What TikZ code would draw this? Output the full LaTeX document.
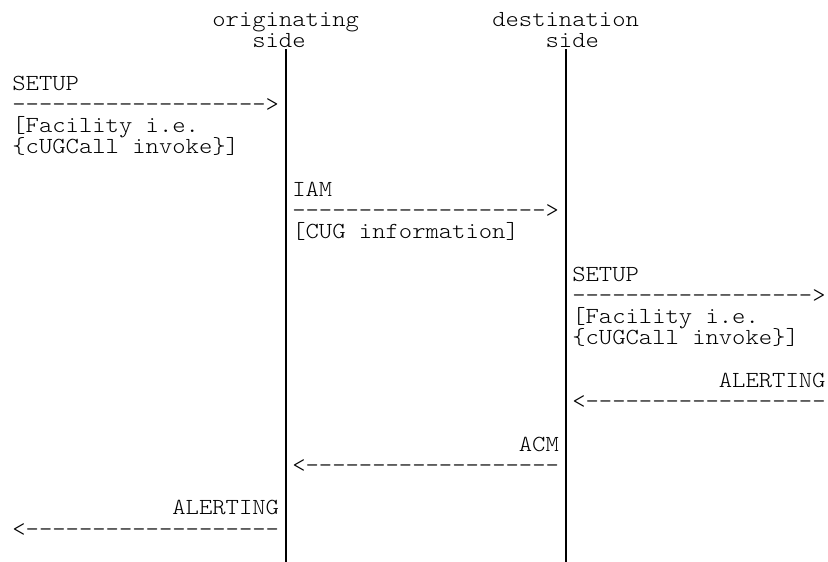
\documentclass[tikz,border=0pt]{standalone}
\usepackage{fontspec}
\setmonofont{lmmonolt10-regular.otf}[FakeStretch=1.104]
\begin{document}
\begin{tikzpicture}[x=1pt,y=-1pt,
  txt/.style={anchor=base west, inner sep=0pt, outer sep=0pt,
              font=\ttfamily\fontsize{23}{23}\selectfont, text=black},
  lifeline/.style={line width=2.1pt, draw=black}]
\useasboundingbox (0,0) rectangle (828,562);
% column x = 12.4 + 13.33 c ; row baseline = 90.1 + (r-3)*21.23
% headers
\node[txt] (hdrA) at (212.4,26.4) {originating};
\node[txt] (sideA) at (252.3,47.6) {side};
\node[txt] (hdrB) at (492.3,26.4) {destination};
\node[txt] (sideB) at (545.6,47.6) {side};
% lifelines
\coordinate (Atop) at (285.7,49);
\coordinate (Abot) at (285.7,562);
\coordinate (Btop) at (565.6,49);
\coordinate (Bbot) at (565.6,562);
\draw[lifeline] (Atop) -- (Abot);
\draw[lifeline] (Btop) -- (Bbot);
% SETUP (left)
\node[txt] (m1) at (12.4,90.1) {SETUP};
\node[txt] (m1a) at (12.4,111.3) {------------------->};
\node[txt] (m1b) at (12.4,132.6) {[Facility i.e.};
\node[txt] (m1c) at (12.4,153.8) {\{cUGCall invoke\}]};
% IAM
\node[txt] (m2) at (292.3,196.3) {IAM};
\node[txt] (m2a) at (292.3,217.5) {------------------->};
\node[txt] (m2b) at (292.3,238.7) {[CUG information]};
% SETUP (right)
\node[txt] (m3) at (572.3,281.2) {SETUP};
\node[txt] (m3a) at (572.3,302.4) {------------------>};
\node[txt] (m3b) at (572.3,323.7) {[Facility i.e.};
\node[txt] (m3c) at (572.3,344.9) {\{cUGCall invoke\}]};
% ALERTING (right)
\node[txt] (m4) at (718.9,387.4) {ALERTING};
\node[txt] (m4a) at (572.3,408.6) {<------------------};
% ACM
\node[txt] (m5) at (518.9,451.1) {ACM};
\node[txt] (m5a) at (292.3,472.3) {<-------------------};
% ALERTING (left)
\node[txt] (m6) at (172.4,514.8) {ALERTING};
\node[txt] (m6a) at (12.4,536.0) {<-------------------};
\end{tikzpicture}
\end{document}
